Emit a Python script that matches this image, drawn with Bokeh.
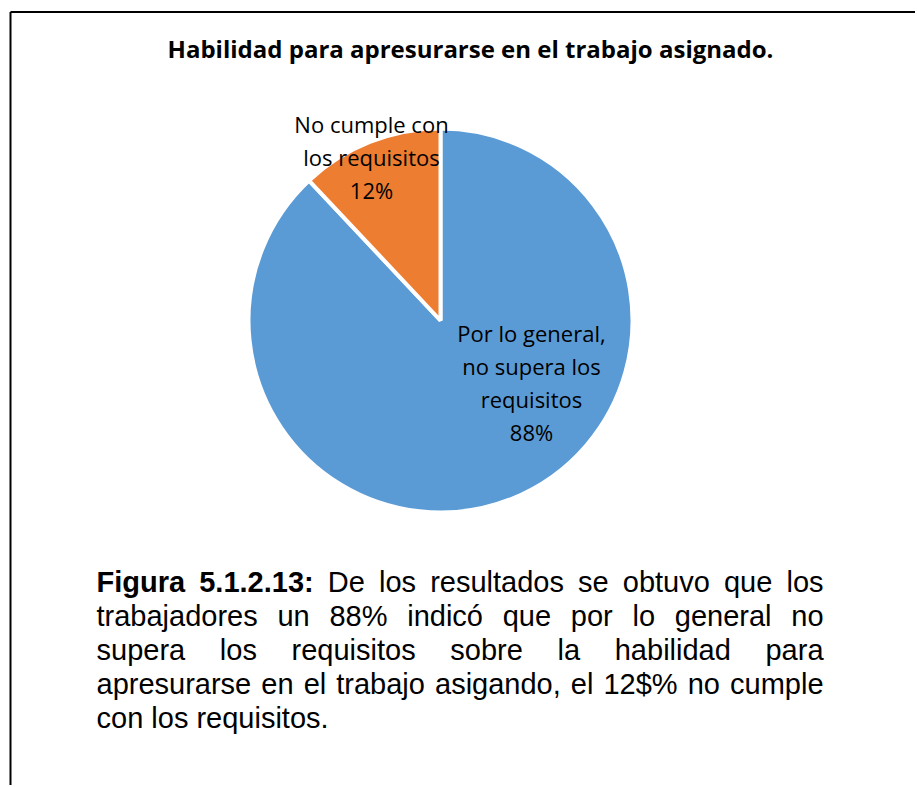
import numpy as np
from bokeh.plotting import figure
from bokeh.models import Range1d, ColumnDataSource
from bokeh.core.properties import value
from bokeh.embed import file_html
from bokeh.resources import INLINE

# ---------------- data ----------------
title_text = "Habilidad para apresurarse en el trabajo asignado."
categories = ["Por lo general, no supera los requisitos", "No cumple con los requisitos"]
shares = [88, 12]
colors = ["#5B9BD5", "#ED7D31"]
label_lines = [["Por lo general,", "no supera los", "requisitos"],
               ["No cumple con", "los requisitos"]]

caption_bold = "Figura 5.1.2.13:"
caption_lines = [
    "Figura 5.1.2.13: De los resultados se obtuvo que los",
    "trabajadores un 88% indicó que por lo general no",
    "supera los requisitos sobre la habilidad para",
    "apresurarse en el trabajo asigando, el 12$% no cumple",
    "con los requisitos.",
]

# ---------------- layout helpers ----------------
FW, FH = 915, 785
def Y(py):
    return FH - py

p = figure(width=FW, height=FH, x_range=Range1d(0, FW), y_range=Range1d(0, FH),
           output_backend="svg", toolbar_location=None,
           x_axis_type=None, y_axis_type=None, min_border=0,
           outline_line_color=None, background_fill_color="white",
           border_fill_color="white")
p.grid.visible = False

# frame lines (top and left)
p.segment(x0=[10, 10], y0=[Y(11.5), Y(11.5)], x1=[FW + 5, 10], y1=[Y(11.5), Y(FH + 5)],
          line_color="black", line_width=2)

# title
p.text(x=[470], y=[Y(47.5)], text=[title_text], text_font=value("Open Sans"),
       text_font_size=value("24px"), text_font_style="bold",
       text_align="center", text_baseline="alphabetic", text_color="black")

# pie
fr = np.array(shares, dtype=float) / sum(shares)
cum = np.concatenate([[0.0], np.cumsum(fr)])
start = np.pi / 2 - cum[:-1] * 2 * np.pi
end = np.pi / 2 - cum[1:] * 2 * np.pi
src = ColumnDataSource(dict(cat=categories, val=shares, start=start, end=end, color=colors))
p.wedge(x=440, y=Y(320), radius=192, radius_units="screen",
        start_angle="start", end_angle="end", direction="clock",
        fill_color="color", line_color="white", line_width=4, source=src)

# data labels
label_anchor = [(531, 332), (371, 123)]
line_step = 33
for lines, v, (ax, ay) in zip(label_lines, shares, label_anchor):
    texts = lines + [f"{v}%"]
    xs = [ax] * len(texts)
    ys = [Y(ay + i * line_step) for i in range(len(texts))]
    p.text(x=xs, y=ys, text=texts, text_font=value("Open Sans"),
           text_font_size=value("22px"), text_align="center",
           text_baseline="alphabetic", text_color="black")

# caption (justified, Arial metrics)
REG = {' ': 278, '$': 556, '%': 889, ',': 278, '.': 278, ':': 278,
       'D': 722, 'F': 611, 'ó': 556,
       'a': 556, 'b': 556, 'c': 500, 'd': 556, 'e': 556, 'f': 278, 'g': 556,
       'h': 556, 'i': 222, 'j': 222, 'k': 500, 'l': 222, 'm': 833, 'n': 556,
       'o': 556, 'p': 556, 'q': 556, 'r': 333, 's': 500, 't': 278, 'u': 556,
       'v': 500, 'w': 722, 'x': 500, 'y': 500, 'z': 500}
for d in "0123456789":
    REG[d] = 556
BOLD = {' ': 278, 'F': 611, 'i': 278, 'g': 611, 'u': 611, 'r': 389, 'a': 556,
        '.': 278, ':': 333}
for d in "0123456789":
    BOLD[d] = 556

FS = 29
LEFT, RIGHT = 96, 823
bold_words = set(caption_bold.split())

def wwidth(word, bold):
    tbl = BOLD if bold else REG
    return sum(tbl.get(ch, 556) for ch in word) / 1000.0 * FS

rx, ry, rt, bx, by, bt = [], [], [], [], [], []
for li, line in enumerate(caption_lines):
    words = line.split()
    isb = [li == 0 and w in bold_words for w in words]
    widths = [wwidth(w, b) for w, b in zip(words, isb)]
    last = li == len(caption_lines) - 1
    if last or len(words) == 1:
        gap = REG[' '] / 1000.0 * FS
    else:
        gap = (RIGHT - LEFT - sum(widths)) / (len(words) - 1)
    x = LEFT
    yb = Y(581.5 + li * 34.0)
    for w, b, wd in zip(words, isb, widths):
        if b:
            bx.append(x); by.append(yb); bt.append(w)
        else:
            rx.append(x); ry.append(yb); rt.append(w)
        x += wd + gap

p.text(x=rx, y=ry, text=rt, text_font=value("Liberation Sans"),
       text_font_size=value(f"{FS}px"), text_align="left",
       text_baseline="alphabetic", text_color="black")
p.text(x=bx, y=by, text=bt, text_font=value("Liberation Sans"),
       text_font_size=value(f"{FS}px"), text_font_style="bold", text_align="left",
       text_baseline="alphabetic", text_color="black")

open("out.html", "w").write(file_html(p, INLINE))
